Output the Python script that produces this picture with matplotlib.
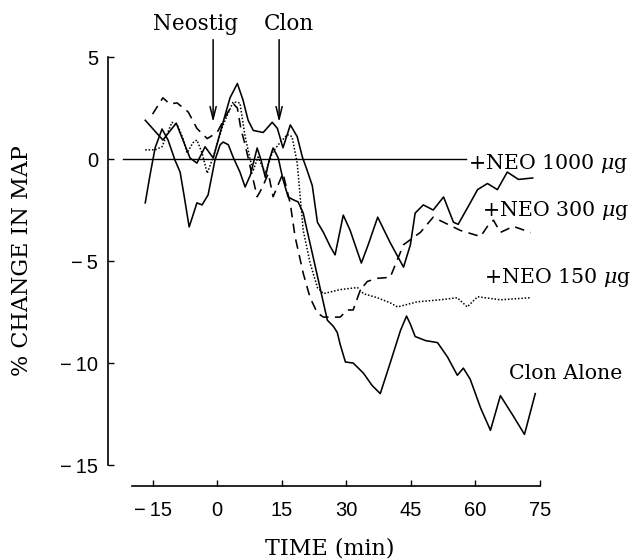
"""
% change in MAP after neostigmine + clonidine, redrawn from a scanned figure.
"""

import matplotlib
matplotlib.use('Agg')
import matplotlib.pyplot as plt

# values (time in min, % change in MAP)
t_neo1000 = [-16.7, -12.6, -9.5, -6.3, -4.7, -2.8, -0.9, 1.2, 3.0, 4.7, 6.0, 7.2, 8.4,
             10.7, 12.8, 14.0, 15.3, 17.0, 18.6, 19.8, 20.9, 22.1, 23.3, 24.7, 26.3,
             27.4, 29.3, 30.9, 33.5, 35.1, 37.3, 40.2, 43.3, 44.9, 46.0, 47.9, 50.2,
             52.6, 54.9, 56.0, 58.8, 60.5, 62.8, 65.1, 67.4, 70.0, 73.3]
v_neo1000 = [1.9, 0.93, 1.76, 0.05, -0.2, 0.6, 0.05, 1.67, 3.0, 3.7, 2.9, 1.9, 1.4,
             1.3, 1.8, 1.5, 0.55, 1.67, 1.1, 0.1, -0.55, -1.3, -3.1, -3.6, -4.3,
             -4.7, -2.75, -3.5, -5.1, -4.2, -2.85, -4.1, -5.3, -4.2, -2.65, -2.25, -2.5,
             -1.86, -3.1, -3.2, -2.15, -1.5, -1.2, -1.5, -0.64, -1.0, -0.93]

t_neo300 = [-15.0, -12.6, -11.0, -9.3, -6.7, -4.7, -2.3, 0.0, 2.5, 3.8, 4.7, 5.5, 6.5,
            7.7, 9.3, 10.5, 11.9, 13.0, 14.7, 15.3, 17.0, 18.1, 20.0, 21.6, 23.3,
            24.7, 28.6, 30.2, 31.6, 33.3, 34.9, 37.2, 40.2, 43.3, 47.2, 50.2, 52.6,
            56.5, 61.2, 62.8, 64.2, 65.8, 68.8, 72.8]
v_neo300 = [2.2, 3.0, 2.7, 2.75, 2.3, 1.5, 1.0, 1.3, 2.3, 2.7, 2.5, 1.5, 0.7,
            -0.4, -1.85, -1.4, -0.7, -1.85, -1.0, -0.7, -2.2, -3.8, -5.6, -6.8, -7.55,
            -7.75, -7.75, -7.4, -7.4, -6.4, -6.0, -5.85, -5.8, -4.2, -3.6, -2.85, -3.1,
            -3.5, -3.8, -3.3, -3.0, -3.6, -3.3, -3.6]

t_neo150 = [-16.7, -14.4, -12.8, -10.5, -9.1, -7.9, -7.0, -5.6, -4.7, -3.5, -2.3, -0.9,
            1.2, 3.7, 5.3, 6.5, 7.7, 8.4, 9.5, 11.2, 12.8, 14.2, 16.3, 17.4, 18.6,
            19.3, 20.0, 21.6, 23.3, 24.7, 28.6, 32.6, 34.0, 37.2, 40.2, 41.9, 46.5,
            51.9, 55.8, 58.1, 60.5, 65.8, 72.8]
v_neo150 = [0.45, 0.45, 0.6, 1.8, 1.6, 1.0, 0.3, 0.8, 0.93, 0.3, -0.7, 0.1,
            1.57, 2.8, 2.75, 1.1, -0.05, -0.55, 0.1, -0.7, 0.3, 0.7, 1.2, 1.1, -0.2,
            -1.85, -3.5, -5.1, -6.3, -6.6, -6.4, -6.3, -6.6, -6.8, -7.05, -7.25, -7.0,
            -6.9, -6.8, -7.25, -6.75, -6.9, -6.8]

t_clon = [-16.7, -15.6, -14.4, -12.8, -11.4, -9.8, -8.6, -7.7, -6.5, -5.6, -4.7, -3.5,
          -2.1, -1.2, -0.5, 0.7, 1.4, 2.6, 3.7, 5.3, 6.5, 7.7, 9.3, 10.2, 11.2, 12.1,
          13.0, 14.2, 15.3, 16.5, 17.7, 18.8, 20.0, 20.9, 22.3, 24.0, 25.6, 27.0,
          27.9, 28.6, 29.8, 31.6, 34.0, 36.0, 37.9, 40.2, 42.6, 44.0, 44.9, 46.0,
          48.4, 51.2, 53.5, 55.8, 57.2, 58.8, 61.2, 63.5, 65.8, 68.8, 71.4, 73.9]
v_clon = [-2.15, -0.8, 0.55, 1.47, 0.93, -0.05, -0.64, -1.76, -3.33, -2.75, -2.15, -2.25,
          -1.76, -0.8, -0.05, 0.7, 0.83, 0.7, 0.1, -0.64, -1.37, -0.8, 0.54, -0.05, -0.9, -0.05,
          0.54, 0.05, -1.0, -1.86, -2.0, -2.1, -2.65, -3.5, -4.8, -6.4, -7.9, -8.2,
          -8.5, -9.1, -9.95, -10.0, -10.5, -11.1, -11.5, -10.0, -8.4, -7.7, -8.1, -8.7,
          -8.9, -9.0, -9.7, -10.6, -10.25, -10.8, -12.2, -13.3, -11.6, -12.6, -13.5, -11.5]

xticks = [-15, 0, 15, 30, 45, 60, 75]
yticks = [5, 0, -5, -10, -15]

serif = 'DejaVu Serif'
plt.rcParams['mathtext.fontset'] = 'dejavuserif'

fig = plt.figure(figsize=(6.37, 5.6), dpi=100)
ax = fig.add_axes([0.2057, 0.1696, 0.642, 0.7286])
ax.set_xlim(-20, 75)
ax.set_ylim(-15, 5)

kw = dict(color='black', clip_on=False, solid_joinstyle='round')
ax.plot(t_neo1000, v_neo1000, lw=1.15, **kw)
ax.plot(t_clon, v_clon, lw=1.15, **kw)
ax.plot(t_neo300, v_neo300, lw=1.15, linestyle=(0, (6, 4)), **kw)
ax.plot(t_neo150, v_neo150, lw=1.1, linestyle=(0, (1, 1.2)), **kw)

# zero reference line
ax.plot([-21.9, 57.8], [0, 0], color='black', lw=1.0, clip_on=False)

# end labels
lab = dict(fontsize=14.8, family=serif, va='center', ha='left')
ax.text(58.2, -0.2, r'+NEO 1000 $\mu$g', **lab)
ax.text(61.6, -2.5, r'+NEO 300 $\mu$g', **lab)
ax.text(62.0, -5.8, r'+NEO 150 $\mu$g', **lab)
ax.text(67.8, -10.5, 'Clon Alone', **lab)

# injection arrows
for tx, name, lx in [(-0.93, 'Neostig', -4.9), (14.4, 'Clon', 16.7)]:
    ax.annotate('', xy=(tx, 1.8), xytext=(tx, 5.85), annotation_clip=False,
                arrowprops=dict(arrowstyle='->,head_length=0.9,head_width=0.22',
                                color='black', lw=1.1, shrinkA=0, shrinkB=0))
    ax.text(lx, 6.6, name, fontsize=15.5, family=serif, ha='center', va='center')

# axes styling
for s in ['top', 'right']:
    ax.spines[s].set_visible(False)
ax.spines['left'].set_position(('outward', 16.6))
ax.spines['bottom'].set_position(('outward', 15.1))
ax.spines['left'].set_bounds(-15, 5)
ax.spines['bottom'].set_bounds(-19.8, 75)
ax.spines['left'].set_linewidth(1.2)
ax.spines['bottom'].set_linewidth(1.2)

ax.set_xticks(xticks, [str(x).replace('-', '\u2212\u2009') for x in xticks])
ax.set_yticks(yticks, [str(y).replace('-', '\u2212\u2009') for y in yticks])
ax.tick_params(axis='both', direction='in', length=4, width=1.0,
               labelsize=14.5, labelfontfamily='Liberation Sans')
ax.tick_params(axis='y', pad=7)
ax.tick_params(axis='x', pad=11)

ax.set_ylabel('% CHANGE IN MAP', fontsize=16, family=serif, va='center')
ax.yaxis.set_label_coords(-0.2665, 0.5)
ax.set_xlabel('TIME (min)', fontsize=16, family=serif, va='center')
ax.xaxis.set_label_coords(0.4866, -0.2034)

plt.savefig('out.png', dpi=100)
